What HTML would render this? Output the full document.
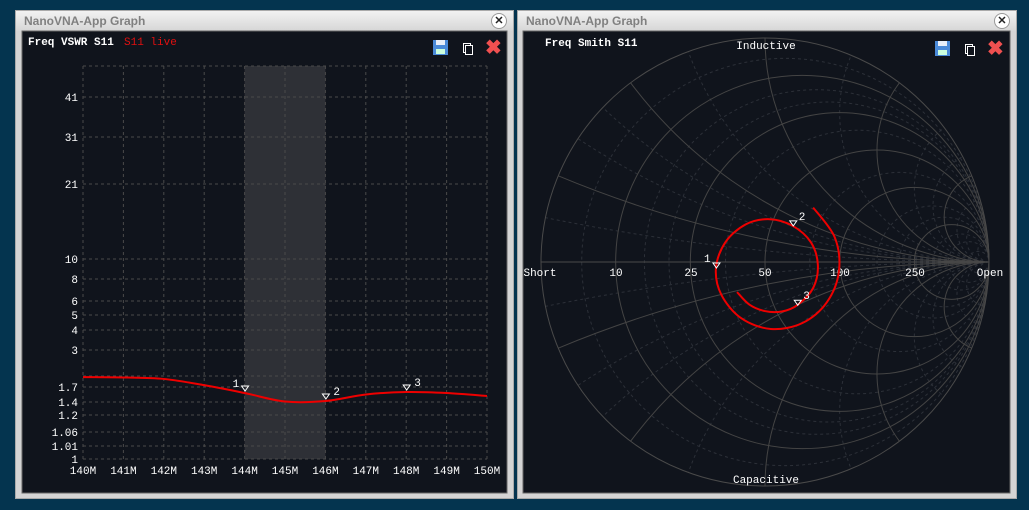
<!DOCTYPE html>
<html style="overflow:hidden"><head><meta charset="utf-8"><style>
html,body{margin:0;width:1029px;height:510px;overflow:hidden;}
body{background:#04344f;font-family:"Liberation Mono",monospace;position:relative;}
.win{position:absolute;top:10px;height:489px;background:#d4d4d4;border:1px solid #aaa;box-sizing:border-box;}
.tb{position:absolute;left:0;right:0;top:0;height:20px;background:linear-gradient(#f2f2f2,#d6d6d6);}
.tt{position:absolute;left:8px;top:3px;font:bold 12px "Liberation Sans",sans-serif;color:#808080;}
.cl{position:absolute;right:6px;top:2px;width:14px;height:14px;border-radius:50%;background:#fff;border:1px solid #999;font:bold 11px "Liberation Sans",sans-serif;line-height:14px;text-align:center;color:#222;}
svg{position:absolute;left:0;top:0;overflow:hidden;}
</style></head><body>
<div class="win" style="left:15px;width:499px;">
 <div class="tb"><span class="tt">NanoVNA-App Graph</span><span class="cl">✕</span></div>
</div>
<div class="win" style="left:517px;width:500px;">
 <div class="tb"><span class="tt">NanoVNA-App Graph</span><span class="cl">✕</span></div>
</div>
<svg id="s" width="1029" height="510" viewBox="0 0 1029 510" font-family="Liberation Mono, monospace" font-size="11">
 <rect x="22" y="31" width="485" height="462" fill="#10141c" stroke="#666"/>
 <rect x="523" y="31" width="487" height="462" fill="#10141c" stroke="#666"/>
 <text x="28" y="45" fill="#fff" font-weight="bold">Freq VSWR S11</text>
 <text x="124" y="45" fill="#e01010">S11 live</text>
 <text x="545" y="46" fill="#fff" font-weight="bold">Freq Smith S11</text>
 <g><rect x="433" y="40" width="15" height="15" fill="#4a8ad8"/><rect x="436" y="40" width="9" height="5" fill="#e8eef8"/><rect x="436" y="49" width="9" height="5" fill="#cfd"/></g>
 <g fill="none" stroke="#fff"><rect x="463.5" y="43.5" width="7" height="9"/><rect x="465.5" y="45.5" width="7" height="9" fill="#10141c"/></g>
 <text x="485" y="54" fill="#f05050" font-size="20" font-weight="bold" font-family="Liberation Sans,sans-serif">✖</text>
 <g><rect x="935" y="41" width="15" height="15" fill="#4a8ad8"/><rect x="938" y="41" width="9" height="5" fill="#e8eef8"/><rect x="938" y="50" width="9" height="5" fill="#cfd"/></g>
 <g fill="none" stroke="#fff"><rect x="965.5" y="44.5" width="7" height="9"/><rect x="967.5" y="46.5" width="7" height="9" fill="#10141c"/></g>
 <text x="987" y="55" fill="#f05050" font-size="20" font-weight="bold" font-family="Liberation Sans,sans-serif">✖</text>
 <g id="L"></g><g id="R"></g>
</svg>
<script>
// VSWR chart data
const freqs=[140,141,142,143,144,145,146,147,148,149,150];
const vswr=[1.97,1.96,1.92,1.75,1.58,1.41,1.42,1.55,1.6,1.58,1.52];
const yTicks=[1,1.01,1.06,1.2,1.4,1.7,2,3,4,5,6,8,10,21,31,41];
const yTickLabels=["1","1.01","1.06","1.2","1.4","1.7","","3","4","5","6","8","10","21","31","41"];
const xTicks=[140,141,142,143,144,145,146,147,148,149,150];
const markerFreqs=[144,146,148];
const spanBand=[144,146];
// Smith data: reflection coefficient (re, im), 140..150 MHz step 0.5
const smithRe=[0.215,0.311,0.330,0.276,0.166,0.026,-0.106,-0.195,-0.219,-0.177,-0.086,0.021,0.124,0.205,0.236,0.215,0.144,0.075,-0.001,-0.070,-0.125];
const smithIm=[0.243,0.111,-0.042,-0.180,-0.273,-0.299,-0.251,-0.146,-0.027,0.088,0.168,0.191,0.161,0.088,-0.013,-0.116,-0.193,-0.221,-0.219,-0.190,-0.134];
const smithMarkers=[8,12,16];

const NS="http://www.w3.org/2000/svg";
function mk(p,t,a){const e=document.createElementNS(NS,t);for(const k in a)e.setAttribute(k,a[k]);p.appendChild(e);return e;}
function smooth(P){let sd='M'+P[0];for(let i=0;i<P.length-1;i++){const p0=P[Math.max(0,i-1)],p1=P[i],p2=P[i+1],p3=P[Math.min(P.length-1,i+2)];
 sd+=`C${p1[0]+(p2[0]-p0[0])/6},${p1[1]+(p2[1]-p0[1])/6} ${p2[0]-(p3[0]-p1[0])/6},${p2[1]-(p3[1]-p1[1])/6} ${p2[0]},${p2[1]}`;}return sd;}
const L=document.getElementById('L'),R=document.getElementById('R');
const X0=83,X1=487,YT=66,YB=459;
const xS=f=>X0+(f-140)/(150-140)*(X1-X0);
function yS(v){const kv=[1,1.01,1.06,1.2,1.4,1.7,2,3,4,5,6,8,10,21,31,41,60],kp=[0,13,27,44,57,72,83,109,129,144,158,180,200,275,322,362,393];
 for(let i=0;i<kv.length-1;i++){if(v<=kv[i+1]){const t=(v-kv[i])/(kv[i+1]-kv[i]);return YB-(kp[i]+t*(kp[i+1]-kp[i]));}}return YT;}
let b=mk(L,'rect',{x:xS(spanBand[0]),y:YT,width:xS(spanBand[1])-xS(spanBand[0]),height:YB-YT,fill:'#2e3036'});


xTicks.forEach(f=>{const l=mk(L,'line',{x1:xS(f),x2:xS(f),y1:YT,y2:YB,stroke:'#4a4a4a','stroke-dasharray':'3,3'});
 
 
 const t=mk(L,'text',{x:xS(f),y:YB+15,fill:'#fff','text-anchor':'middle'});t.textContent=f+'M';
 
 });
const gl=mk(L,'line',{x1:X0,x2:X1,y1:YT,y2:YT,stroke:'#4a4a4a','stroke-dasharray':'3,3'});


yTicks.forEach((v,i)=>{const l=mk(L,'line',{x1:X0,x2:X1,y1:yS(v),y2:yS(v),stroke:'#4a4a4a','stroke-dasharray':'3,3'});
 
 
 const t=mk(L,'text',{x:X0-5,y:yS(v)+4,fill:'#fff','text-anchor':'end'});t.textContent=yTickLabels[i];
 
 });
const cv=mk(L,'path',{d:smooth(freqs.map((f,i)=>[xS(f),yS(vswr[i])])),fill:'none',stroke:'#e00',"stroke-width":2});


markerFreqs.forEach((f,i)=>{const k=freqs.indexOf(f),x=xS(f),y=yS(vswr[k]);
 const p=mk(L,'path',{d:`M${x-3},${y-7}h7l-3.5,5z`,fill:'none',stroke:'#fff'});
 
 
 const t=mk(L,'text',{x:i==0?x-12:x+8,y:y-6,fill:'#fff'});t.textContent=i+1;
 
 });
// Smith chart
const CX=765,CY=262,RR=224;
const gx=g=>CX+g*RR,gy=g=>CY-g*RR;
const G=mk(R,'g',{});


const solidR=[0.2,0.5,1,2,5],dashR=[0.1,0.3,0.4,0.7,1.5,3,4,7,10,20];
const solidX=[0.2,0.5,1,2,5],dashX=[0.1,0.3,0.4,0.7,1.5,3,4,7,10,20];
function rc(r,s){mk(G,'circle',{cx:gx(r/(1+r)),cy:CY,r:RR/(1+r),fill:'none',stroke:s?'#444':'#2c3038','stroke-dasharray':s?'':'3,3'});}
function xc(x,s){const ex=(x*x-1)/(x*x+1),ey=2*x/(x*x+1),rr=RR/x;
 [1,-1].forEach(sg=>mk(G,'path',{d:`M${gx(1)},${CY}A${rr},${rr} 0 0 ${sg>0?1:0} ${gx(ex)},${gy(sg*ey)}`,fill:'none',stroke:s?'#444':'#2c3038','stroke-dasharray':s?'':'3,3'}));}
dashR.forEach(r=>rc(r,0));dashX.forEach(x=>xc(x,0));solidR.forEach(r=>rc(r,1));solidX.forEach(x=>xc(x,1));
mk(G,'line',{x1:CX-RR,x2:CX+RR,y1:CY,y2:CY,stroke:'#4a4a4a'});
const oc=mk(R,'circle',{cx:CX,cy:CY,r:RR,fill:'none',stroke:'#4a4a4a'});


[['Short',540],['10',616],['25',691],['50',765],['100',840],['250',915],['Open',990]].forEach(([s,x])=>{const t=mk(R,'text',{x:x,y:CY+14,fill:'#fff','text-anchor':'middle'});t.textContent=s;
 
 });
[['Inductive',766,49],['Capacitive',766,483]].forEach(([s,x,y])=>{const t=mk(R,'text',{x:x,y:y,fill:'#fff','text-anchor':'middle'});t.textContent=s;
 
 });
const P=smithRe.map((r,i)=>[gx(r),gy(smithIm[i])]);
const st=mk(R,'path',{d:smooth(P),fill:'none',stroke:'#e00','stroke-width':2});


smithMarkers.forEach((k,i)=>{const [x,y]=P[k];
 const p=mk(R,'path',{d:`M${x-3},${y-5}h7l-3.5,5z`,fill:'none',stroke:'#fff'});
 
 
 const t=mk(R,'text',{x:i==0?x-12:x+6,y:y-6,fill:'#fff'});t.textContent=i+1;
 
 });
</script>
</body></html>
